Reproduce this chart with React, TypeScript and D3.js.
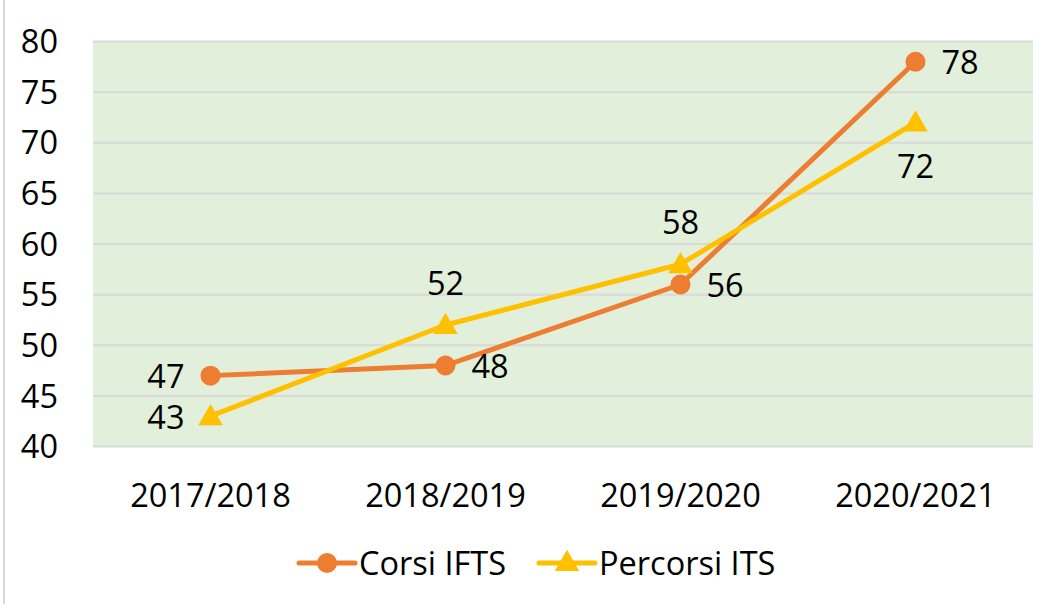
import React, { useEffect, useRef } from "react";
import * as d3 from "d3";

const years = ["2017/2018", "2018/2019", "2019/2020", "2020/2021"];
const corsiIfts = [47, 48, 56, 78];
const percorsiIts = [43, 52, 58, 72];
const yTicks = [40, 45, 50, 55, 60, 65, 70, 75, 80];
// where each data label sits relative to its point
const corsiPos = ["left", "right", "right", "right"];
const percorsiPos = ["left", "above", "above", "below"];

const W = 1051;
const H = 604;
const FONT = "'Open Sans', sans-serif";
const FS = "32.5px";

export default function App() {
  const ref = useRef<SVGSVGElement>(null);

  useEffect(() => {
    const svg = d3.select(ref.current);
    svg.selectAll("*").remove();

    const plot = { left: 93, right: 1033, top: 41.5, bottom: 446.5 };

    const x = d3.scaleBand().domain(years).range([plot.left, plot.right]);
    const y = d3.scaleLinear().domain([40, 80]).range([plot.bottom, plot.top]);
    const cx = (d: string) => (x(d) as number) + x.bandwidth() / 2;

    svg.append("rect").attr("width", W).attr("height", H).attr("fill", "#fff");
    svg.append("line")
      .attr("x1", 4).attr("x2", 4).attr("y1", 0).attr("y2", H)
      .attr("stroke", "#d9d9d9").attr("stroke-width", 2);

    svg.append("rect")
      .attr("x", plot.left).attr("y", plot.top)
      .attr("width", plot.right - plot.left)
      .attr("height", plot.bottom - plot.top)
      .attr("fill", "#e2efda");

    svg.append("g")
      .selectAll("line")
      .data(yTicks)
      .enter()
      .append("line")
      .attr("x1", plot.left).attr("x2", plot.right)
      .attr("y1", (d) => y(d)).attr("y2", (d) => y(d))
      .attr("stroke", "#d9d9d9").attr("stroke-width", 2);

    svg.append("g")
      .selectAll("text")
      .data(yTicks)
      .enter()
      .append("text")
      .attr("x", 58)
      .attr("y", (d) => y(d))
      .attr("dy", "0.36em")
      .attr("text-anchor", "end")
      .style("font-family", FONT)
      .style("font-size", FS)
      .text((d) => d);

    svg.append("g")
      .selectAll("text")
      .data(years)
      .enter()
      .append("text")
      .attr("x", (d) => cx(d))
      .attr("y", 495)
      .attr("dy", "0.36em")
      .attr("text-anchor", "middle")
      .style("font-family", FONT)
      .style("font-size", FS)
      .text((d) => d);

    const line = d3.line<number>()
      .x((d, i) => cx(years[i]))
      .y((d) => y(d));

    const tri = d3.symbol().type(d3.symbolTriangle).size(260);

    const series = [
      { values: corsiIfts, color: "#ed7d31", marker: "circle", pos: corsiPos },
      { values: percorsiIts, color: "#ffc000", marker: "triangle", pos: percorsiPos },
    ];

    series.forEach((s) => {
      const g = svg.append("g");
      g.append("path")
        .attr("d", line(s.values))
        .attr("fill", "none")
        .attr("stroke", s.color)
        .attr("stroke-width", 5)
        .attr("stroke-linejoin", "round")
        .attr("stroke-linecap", "round");
      if (s.marker === "circle") {
        g.selectAll("circle")
          .data(s.values)
          .enter()
          .append("circle")
          .attr("cx", (d, i) => cx(years[i]))
          .attr("cy", (d) => y(d))
          .attr("r", 10)
          .attr("fill", s.color);
      } else {
        g.selectAll("path.m")
          .data(s.values)
          .enter()
          .append("path")
          .attr("class", "m")
          .attr("d", tri)
          .attr("transform", (d, i) => `translate(${cx(years[i])},${y(d) + 2})`)
          .attr("fill", s.color);
      }
    });

    // data labels drawn last so they sit above the lines
    series.forEach((s) => {
      svg.append("g")
        .selectAll("text")
        .data(s.values)
        .enter()
        .append("text")
        .attr("x", (d, i) => {
          const p = s.pos[i];
          if (p === "left") return cx(years[i]) - 26;
          if (p === "right") return cx(years[i]) + 26;
          return cx(years[i]);
        })
        .attr("y", (d, i) => {
          const p = s.pos[i];
          if (p === "above") return y(d) - 42;
          if (p === "below") return y(d) + 44;
          return y(d) + 1;
        })
        .attr("dy", "0.36em")
        .attr("text-anchor", (d, i) => {
          const p = s.pos[i];
          return p === "left" ? "end" : p === "right" ? "start" : "middle";
        })
        .style("font-family", FONT)
        .style("font-size", FS)
        .text((d) => d);
    });

    // legend
    const legend = [
      { name: "Corsi IFTS", color: "#ed7d31", marker: "circle", x: 299 },
      { name: "Percorsi ITS", color: "#ffc000", marker: "triangle", x: 539 },
    ];
    const ly = 563;
    legend.forEach((l) => {
      const g = svg.append("g");
      g.append("line")
        .attr("x1", l.x).attr("x2", l.x + 56)
        .attr("y1", ly).attr("y2", ly)
        .attr("stroke", l.color).attr("stroke-width", 5)
        .attr("stroke-linecap", "round");
      if (l.marker === "circle") {
        g.append("circle").attr("cx", l.x + 28).attr("cy", ly).attr("r", 10).attr("fill", l.color);
      } else {
        g.append("path").attr("d", tri).attr("transform", `translate(${l.x + 28},${ly + 1})`).attr("fill", l.color);
      }
      g.append("text")
        .attr("x", l.x + 60)
        .attr("y", ly)
        .attr("dy", "0.36em")
        .style("font-family", FONT)
        .style("font-size", FS)
        .text(l.name);
    });
  }, []);

  return (
    <svg
      ref={ref}
      width={W}
      height={H}
      style={{ position: "absolute", left: 0, top: 0 }}
    />
  );
}
